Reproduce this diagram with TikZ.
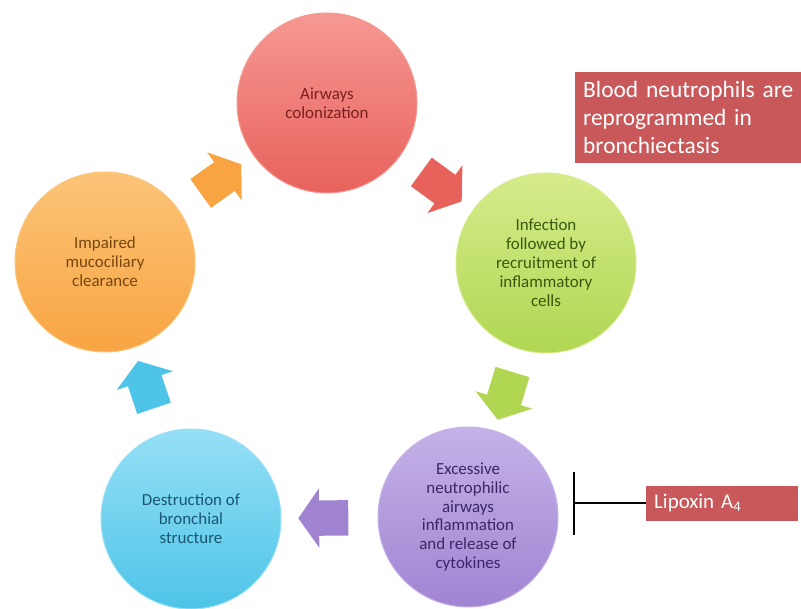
\documentclass[tikz,border=0pt]{standalone}
\usepackage{fontspec}
\setmainfont{Carlito}
\usetikzlibrary{arrows.meta, positioning, shapes.arrows, calc}

\definecolor{redb}{RGB}{232,98,92}
\definecolor{redl}{RGB}{246,152,146}
\definecolor{redd}{RGB}{122,30,30}
\definecolor{greenb}{RGB}{176,214,82}
\definecolor{greenl}{RGB}{214,236,140}
\definecolor{greend}{RGB}{58,88,14}
\definecolor{purpleb}{RGB}{160,132,210}
\definecolor{purplel}{RGB}{196,178,232}
\definecolor{purpled}{RGB}{58,38,102}
\definecolor{blueb}{RGB}{78,196,232}
\definecolor{bluel}{RGB}{150,224,246}
\definecolor{blued}{RGB}{24,86,116}
\definecolor{orangeb}{RGB}{248,164,66}
\definecolor{orangel}{RGB}{252,196,120}
\definecolor{oranged}{RGB}{118,70,14}
\definecolor{noter}{RGB}{200,88,90}

\begin{document}
\begin{tikzpicture}[
    x=1bp, y=-1bp,
    stage/.style={circle, minimum size=180bp, inner sep=0pt, align=center, line width=1bp,
                  font=\fontsize{17}{19}\selectfont},
    cyclearrow/.style={single arrow, sloped, allow upside down, inner xsep=0pt, inner ysep=17.5bp,
                       minimum height=50bp, single arrow head extend=12bp, single arrow tip angle=110},
    notebox/.style={fill=noter, text=white, align=left, inner xsep=8bp, inner ysep=2bp},
    inhibit/.style={-{Bar[width=63bp]}, line width=1.5bp}
]
  \useasboundingbox (0,0) rectangle (801,609);

  \node[stage, top color=redl, bottom color=redb, draw=redl, text=redd] (colon) at (327,103) {Airways\\colonization};
  \node[stage, top color=greenl, bottom color=greenb, draw=greenl, text=greend] (infect) at (546,263) {Infection\\followed by\\recruitment of\\inflammatory\\cells};
  \node[stage, top color=purplel, bottom color=purpleb, draw=purplel, text=purpled] (inflam) at (468,517) {Excessive\\neutrophilic\\airways\\inflammation\\and release of\\cytokines};
  \node[stage, top color=bluel, bottom color=blueb, draw=bluel, text=blued] (destr) at (191,519) {Destruction of\\bronchial\\structure};
  \node[stage, top color=orangel, bottom color=orangeb, draw=orangel, text=oranged] (mucus) at (105,262) {Impaired\\mucociliary\\clearance};

  \path (colon) -- node[cyclearrow, fill=redb] (a1) {} (infect);
  \path (infect) -- node[cyclearrow, fill=greenb] (a2) {} (inflam);
  \path (inflam) -- node[cyclearrow, fill=purpleb] (a3) {} (destr);
  \path (destr) -- node[cyclearrow, fill=blueb] (a4) {} (mucus);
  \path (mucus) -- node[cyclearrow, fill=orangeb] (a5) {} (colon);

  \node[notebox, anchor=north west, minimum height=91bp, text width=224bp,
        font=\fontsize{23.5}{28}\selectfont] (blood) at (575,72) {Blood neutrophils are\\reprogrammed in\\bronchiectasis};
  \node[notebox, anchor=west, minimum width=152bp, minimum height=35bp, text width=136bp,
        font=\fontsize{21}{24}\selectfont] (lipox) at (646,503) {Lipoxin A\textsubscript{4}};
  \coordinate (block) at (573,503);
  \draw[inhibit] (lipox.west) -- (block);
\end{tikzpicture}
\end{document}
